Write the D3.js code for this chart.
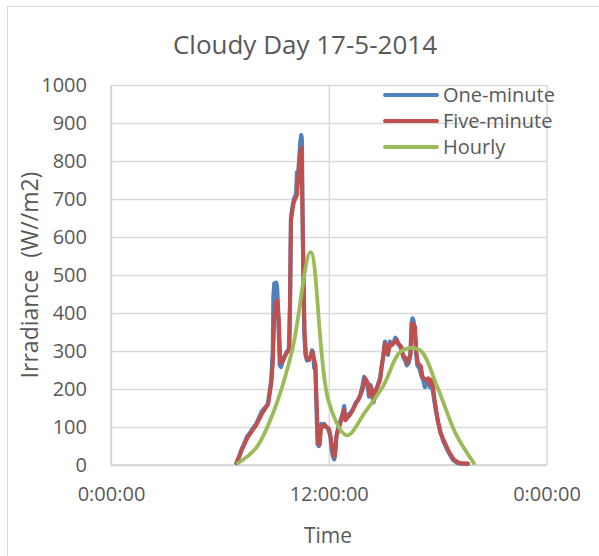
<!DOCTYPE html>
<html>
<head>
<meta charset="utf-8">
<script src="https://cdn.jsdelivr.net/npm/d3@7"></script>
<style>
  html, body { margin: 0; padding: 0; background: #fff; }
  svg { display: block; font-family: "Open Sans", sans-serif; }
</style>
</head>
<body>
<svg id="chart" width="599" height="556"></svg>
<script>
// ---------- data ----------
const titleText = "Cloudy Day 17-5-2014";
const seriesNames = ["One-minute", "Five-minute", "Hourly"];
const yTicks = [0, 100, 200, 300, 400, 500, 600, 700, 800, 900, 1000];
const xTickHours = [0, 12, 24];
const xTickLabels = ["0:00:00", "12:00:00", "0:00:00"];

const oneMinute = [
  ["6:55",5],["7:05",25],["7:12",42],["7:20",55],["7:30",75],["7:40",85],["7:48",95],
  ["8:00",108],["8:10",125],["8:18",140],["8:28",150],["8:38",158],["8:44",190],["8:50",225],
  ["8:55",300],["8:57",445],["9:00",478],["9:03",468],["9:06",480],["9:09",470],["9:12",420],
  ["9:15",340],["9:18",262],["9:22",258],["9:30",280],["9:40",296],["9:48",305],["9:52",420],
  ["9:55",650],["10:00",680],["10:05",700],["10:12",712],["10:15",770],["10:18",760],["10:22",800],
  ["10:26",850],["10:29",868],["10:31",860],["10:33",700],["10:36",500],["10:39",350],["10:43",290],
  ["10:48",275],["10:55",282],["11:00",285],["11:05",302],["11:08",296],["11:12",255],["11:16",262],
  ["11:19",160],["11:23",55],["11:27",50],["11:31",95],["11:35",108],["11:40",100],["11:45",108],
  ["11:52",100],["11:58",95],["12:05",78],["12:10",40],["12:14",22],["12:18",15],["12:22",40],
  ["12:26",80],["12:32",100],["12:40",120],["12:46",135],["12:51",155],["12:55",120],["13:00",125],
  ["13:08",135],["13:15",140],["13:22",150],["13:30",165],["13:38",172],["13:45",185],["13:52",210],
  ["13:57",232],["14:02",225],["14:08",215],["14:13",180],["14:18",210],["14:24",180],["14:28",165],
  ["14:34",195],["14:42",210],["14:50",230],["14:56",265],["15:02",295],["15:06",325],["15:12",298],
  ["15:16",290],["15:22",325],["15:28",318],["15:35",322],["15:40",335],["15:44",330],["15:50",318],
  ["15:56",312],["16:00",305],["16:06",285],["16:12",276],["16:18",262],["16:24",268],["16:30",292],
  ["16:34",375],["16:37",386],["16:40",380],["16:44",360],["16:48",300],["16:53",262],["17:00",255],
  ["17:06",235],["17:12",225],["17:18",205],["17:24",222],["17:30",225],["17:34",205],["17:38",220],
  ["17:43",200],["17:48",175],["17:55",140],["18:02",112],["18:10",85],["18:20",60],["18:35",35],
  ["18:50",15],["19:05",5],["19:40",3]
];

const fiveMinute = [
  ["6:55",5],["7:10",35],["7:30",70],["7:45",88],["8:00",105],["8:20",136],["8:30",149],
  ["8:40",162],["8:50",215],["8:55",268],["9:00",390],["9:05",425],["9:10",434],["9:15",382],
  ["9:20",268],["9:30",276],["9:40",294],["9:50",303],["9:55",640],["10:00",672],["10:05",693],
  ["10:15",710],["10:20",763],["10:25",815],["10:30",835],["10:35",560],["10:40",350],["10:45",285],
  ["10:55",276],["11:05",298],["11:15",268],["11:20",162],["11:25",57],["11:30",53],["11:35",101],
  ["11:45",105],["12:00",96],["12:05",79],["12:15",31],["12:20",22],["12:25",74],["12:35",101],
  ["12:45",127],["12:50",145],["12:55",118],["13:10",132],["13:20",145],["13:30",162],["13:40",175],
  ["13:55",206],["14:00",228],["14:10",215],["14:15",184],["14:20",206],["14:30",171],["14:35",193],
  ["14:50",224],["14:55",259],["15:00",285],["15:05",320],["15:15",294],["15:25",320],["15:30",316],
  ["15:45",329],["15:50",320],["16:00",311],["16:05",289],["16:15",281],["16:20",268],["16:30",289],
  ["16:35",373],["16:45",364],["16:50",294],["16:55",268],["17:05",259],["17:10",232],["17:20",224],
  ["17:30",228],["17:35",211],["17:40",224],["17:45",206],["17:50",171],["18:00",118],["18:10",83],
  ["18:25",57],["18:40",31],["18:55",13],["19:15",4],["19:40",4]
];

const hourlyTimes = ["7:00","8:00","9:00","10:00","11:00","12:00","13:00","14:00","15:00","16:00","17:00","18:00","19:00","20:00"];
const hourlyValues = [5, 45, 145, 305, 560, 166, 78, 139, 208, 300, 303, 203, 82, 5];

const colors = ["#4F81BD", "#C0504D", "#9BBB59"];

// ---------- helpers ----------
function toHours(s) {
  const p = s.split(":").map(Number);
  return p[0] + p[1] / 60;
}

// ---------- layout ----------
const svg = d3.select("#chart");
const plot = { left: 111, right: 546.5, top: 85, bottom: 465 };

const x = d3.scaleLinear().domain([0, 24]).range([plot.left, plot.right]);
const y = d3.scaleLinear().domain([0, 1000]).range([plot.bottom, plot.top]);

// outer chart border
svg.append("rect")
  .attr("x", 7.5).attr("y", 6.5)
  .attr("width", 620).attr("height", 580)
  .attr("fill", "#fff").attr("stroke", "#d9d9d9").attr("stroke-width", 1);

const textColor = "#595959";
const gridColor = "#d9d9d9";

// horizontal gridlines
svg.append("g")
  .attr("transform", `translate(${plot.left},0)`)
  .call(d3.axisLeft(y).tickValues(yTicks).tickSize(-(plot.right - plot.left)).tickFormat(""))
  .call(g => g.select(".domain").remove())
  .call(g => g.selectAll("line").attr("stroke", gridColor).attr("stroke-width", 1.4));

// vertical gridlines
svg.append("g")
  .attr("transform", `translate(0,${plot.bottom})`)
  .call(d3.axisBottom(x).tickValues(xTickHours).tickSize(-(plot.bottom - plot.top)).tickFormat(""))
  .call(g => g.select(".domain").remove())
  .call(g => g.selectAll("line").attr("stroke", gridColor).attr("stroke-width", 1.4));

// axis lines
svg.append("line")
  .attr("x1", plot.left).attr("x2", plot.left).attr("y1", plot.top).attr("y2", plot.bottom)
  .attr("stroke", "#d0d0d0").attr("stroke-width", 1.4);
svg.append("line")
  .attr("x1", plot.left).attr("x2", plot.right).attr("y1", plot.bottom).attr("y2", plot.bottom)
  .attr("stroke", "#d0d0d0").attr("stroke-width", 1.4);

// y tick labels
svg.append("g")
  .attr("transform", `translate(${plot.left},0)`)
  .call(d3.axisLeft(y).tickValues(yTicks).tickSize(0).tickPadding(24).tickFormat(d3.format("d")))
  .call(g => g.select(".domain").remove())
  .call(g => g.selectAll("text").attr("fill", textColor).style("font-size", "20px")
    .style("font-family", "'Open Sans', sans-serif"));

// x tick labels
svg.append("g")
  .attr("transform", `translate(0,${plot.bottom})`)
  .call(d3.axisBottom(x).tickValues(xTickHours).tickSize(0).tickPadding(22)
    .tickFormat((d, i) => xTickLabels[i]))
  .call(g => g.select(".domain").remove())
  .call(g => g.selectAll("text").attr("fill", textColor).style("font-size", "20px")
    .style("font-family", "'Open Sans', sans-serif"));

// title
svg.append("text")
  .attr("x", 305).attr("y", 54)
  .attr("text-anchor", "middle")
  .attr("fill", textColor)
  .style("font-size", "26px")
  .text(titleText);

// axis titles
svg.append("text")
  .attr("x", 328).attr("y", 543)
  .attr("text-anchor", "middle")
  .attr("fill", textColor)
  .style("font-size", "21px")
  .text("Time");

svg.append("text")
  .attr("transform", "translate(38,275) rotate(-90)")
  .attr("text-anchor", "middle")
  .attr("fill", textColor)
  .style("font-size", "23px")
  .style("white-space", "pre")
  .text("Irradiance  (W//m2)");

// ---------- series ----------
const line = d3.line()
  .x(d => x(d[0]))
  .y(d => y(d[1]))
  .curve(d3.curveLinear);

const smooth = d3.line()
  .x(d => x(d[0]))
  .y(d => y(d[1]))
  .curve(d3.curveCatmullRom.alpha(0.5));

const oneData = oneMinute.map(d => [toHours(d[0]), d[1]]);
const fiveData = fiveMinute.map(d => [toHours(d[0]), d[1]]);
const hourData = hourlyTimes.map((t, i) => [toHours(t), hourlyValues[i]]);

svg.append("path").datum(oneData).attr("d", line)
  .attr("fill", "none").attr("stroke", colors[0]).attr("stroke-width", 4.2)
  .attr("stroke-linejoin", "round").attr("stroke-linecap", "round");

svg.append("path").datum(fiveData).attr("d", line)
  .attr("fill", "none").attr("stroke", colors[1]).attr("stroke-width", 4)
  .attr("stroke-linejoin", "round").attr("stroke-linecap", "round");

svg.append("path").datum(hourData).attr("d", smooth)
  .attr("fill", "none").attr("stroke", colors[2]).attr("stroke-width", 3.8)
  .attr("stroke-linejoin", "round").attr("stroke-linecap", "round");

// ---------- legend ----------
const legend = svg.append("g");
const legendY = [95, 121, 147];
seriesNames.forEach((name, i) => {
  legend.append("line")
    .attr("x1", 385).attr("x2", 437)
    .attr("y1", legendY[i]).attr("y2", legendY[i])
    .attr("stroke", colors[i]).attr("stroke-width", 4).attr("stroke-linecap", "round");
  legend.append("text")
    .attr("x", 443).attr("y", legendY[i])
    .attr("dy", "0.35em")
    .attr("fill", textColor)
    .style("font-size", "20px")
    .text(name);
});
</script>
</body>
</html>
